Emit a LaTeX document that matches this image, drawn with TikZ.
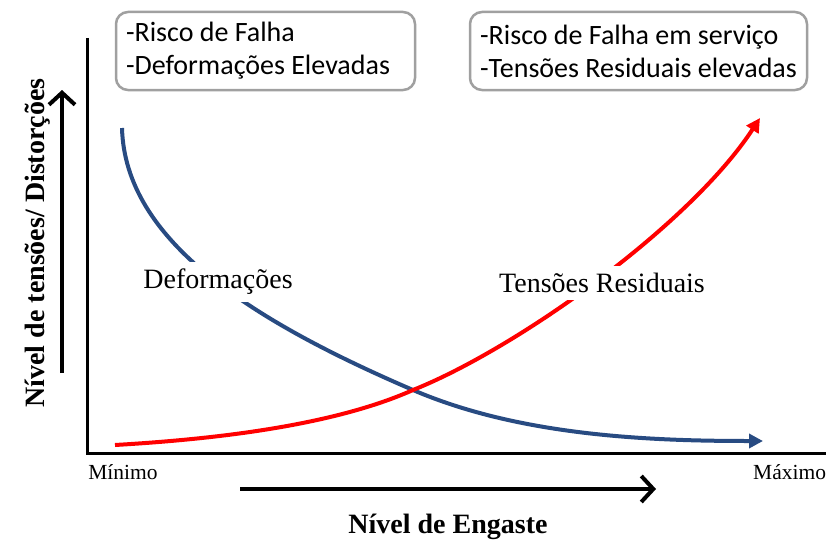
\documentclass[tikz,border=0pt]{standalone}
\usepackage{fontspec}
\setmainfont{Liberation Serif}
\newfontfamily\boxfont{Carlito}
\usetikzlibrary{arrows.meta}
\definecolor{curveblue}{RGB}{40,75,130}
\definecolor{curvered}{RGB}{255,0,0}
\definecolor{boxgray}{RGB}{160,160,160}
\begin{document}
\begin{tikzpicture}[x=1pt,y=1pt,
  infobox/.style={draw=boxgray, line width=2.5pt, rounded corners=12pt, fill=white,
    font=\boxfont\fontsize{28}{33}\selectfont, align=flush left, inner xsep=4pt, inner ysep=0pt},
  axisline/.style={line width=3pt, black},
  bigarrow/.style={line width=4pt, black, -{Straight Barb[length=12pt,width=26pt]}},
  curvelabel/.style={fill=white, font=\fontsize{28}{30}\selectfont, inner xsep=2pt, inner ysep=7pt},
  ticklabel/.style={font=\fontsize{21.5}{24}\selectfont, inner sep=0pt},
  axistitle/.style={font=\bfseries\fontsize{28}{30}\selectfont, inner sep=0pt},
  bluecurve/.style={line width=4pt, curveblue, -{Triangle[length=14pt,width=14pt]}},
  redcurve/.style={line width=4pt, curvered, -{Triangle[length=14pt,width=14pt]}}
]
\useasboundingbox (0,0) rectangle (826,-543);
\fill[white] (0,0) rectangle (826,-543);

% axes
\coordinate (ytop) at (87,-38);
\coordinate (orig) at (87,-453);
\coordinate (xend) at (832,-453);
\draw[axisline] (ytop) -- (orig) -- (xend);

% direction arrows
\coordinate (ua) at (62,-373);
\coordinate (ub) at (62,-90);
\draw[bigarrow] (ua) -- (ub);
\coordinate (ra) at (240,-489);
\coordinate (rb) at (656,-489);
\draw[bigarrow] (ra) -- (rb);

% curves
\coordinate (bs) at (122,-128);
\coordinate (cross) at (413,-390);
\coordinate (be) at (763,-441);
\coordinate (rs) at (115,-445);
\coordinate (re) at (760,-118);
\draw[bluecurve] (bs) .. controls (125,-240) and (250,-320) .. (cross)
                      .. controls (520,-436) and (650,-441) .. (be);
\draw[redcurve] (rs) .. controls (200,-440) and (328,-428) .. (cross)
                     .. controls (518,-348) and (690,-225) .. (re);

% curve labels
\node[curvelabel] (ldef) at (218,-282) {Deformações};
\node[curvelabel] (lten) at (602,-283) {Tensões Residuais};

% info boxes
\node[infobox, minimum width=299pt, minimum height=78pt, inner xsep=10pt, text width=279pt] (box1) at (265.5,-51) {-Risco de Falha\\-Deformações Elevadas};
\node[infobox, minimum width=337pt, minimum height=78pt] (box2) at (638.5,-51) {-Risco de Falha em serviço\\-Tensões Residuais elevadas};

% axis labels
\node[ticklabel] (lmin) at (123,-472) {Mínimo};
\node[ticklabel, anchor=west] (lmax) at (753,-472) {Máximo};
\node[axistitle] (xtitle) at (448,-527) {Nível de Engaste};
\node[axistitle, rotate=90] (ytitle) at (38,-243) {Nível de tensões/ Distorções};
\end{tikzpicture}
\end{document}
